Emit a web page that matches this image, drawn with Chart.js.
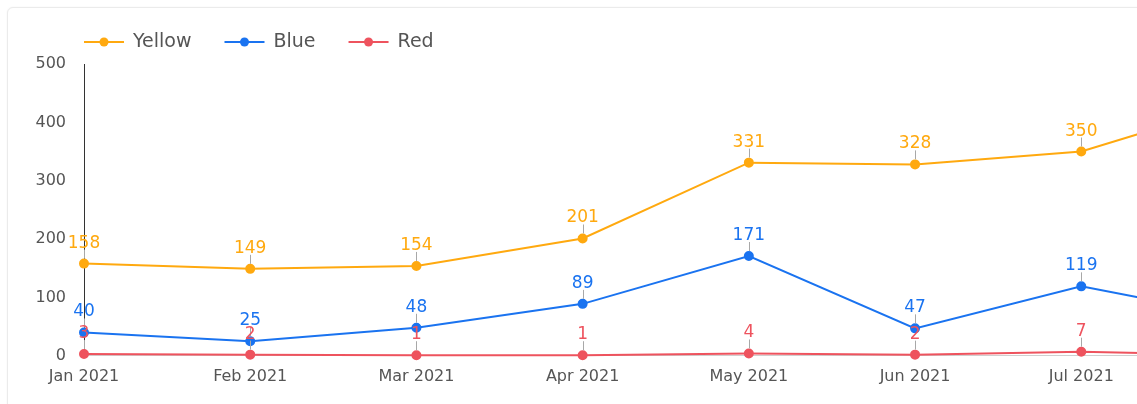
<!DOCTYPE html>
<html>
<head>
<meta charset="utf-8">
<script src="https://cdn.jsdelivr.net/npm/chart.js@4/dist/chart.umd.min.js"></script>
<style>
  html, body { margin:0; padding:0; width:1137px; height:404px; overflow:hidden; background:#fff; }
  #card { position:absolute; left:7px; top:7px; width:1400px; height:460px; border:1px solid #ebebeb; border-radius:6px; background:#fff; box-shadow:0 0 2px rgba(0,0,0,0.05); }
  #wrap { position:absolute; left:0; top:0; width:1297px; height:404px; }
</style>
</head>
<body>
<div id="card"></div>
<div id="wrap"><canvas id="c"></canvas></div>
<script>
const categories = ['Jan 2021','Feb 2021','Mar 2021','Apr 2021','May 2021','Jun 2021','Jul 2021','Aug 2021'];
const yellowValues = [158, 149, 154, 201, 331, 328, 350, 437];
const blueValues   = [40, 25, 48, 89, 171, 47, 119, 64];
const redValues    = [3, 2, 1, 1, 4, 2, 7, 1];
const yTicks = [0, 100, 200, 300, 400, 500];

const FONT = "'DejaVu Sans', 'Open Sans', sans-serif";
const colors = { yellow:'#FFA90F', blue:'#1A73F0', red:'#EE535E' };

const labelPlugin = {
  id: 'pointLabels',
  afterDatasetsDraw(chart) {
    const ctx = chart.ctx;
    chart.data.datasets.forEach((ds, i) => {
      const meta = chart.getDatasetMeta(i);
      meta.data.forEach((pt, j) => {
        const x = pt.x, y = pt.y;
        ctx.save();
        ctx.strokeStyle = '#a8a8a8';
        ctx.lineWidth = 1;
        ctx.beginPath();
        ctx.moveTo(Math.round(x) + 0.5, y - 5);
        ctx.lineTo(Math.round(x) + 0.5, y - 14);
        ctx.stroke();
        ctx.fillStyle = ds.borderColor;
        ctx.font = '17px ' + FONT;
        ctx.textAlign = 'center';
        ctx.textBaseline = 'alphabetic';
        ctx.fillText(String(ds.data[j]), x, y - 16);
        ctx.restore();
      });
    });
  }
};

const legendPlugin = {
  id: 'lineLegend',
  afterDraw(chart) {
    const ctx = chart.ctx;
    let x = chart.chartArea.left;
    const y = 42;
    ctx.save();
    ctx.font = '19px ' + FONT;
    chart.data.datasets.forEach(ds => {
      ctx.strokeStyle = ds.borderColor;
      ctx.fillStyle = ds.borderColor;
      ctx.lineWidth = 2;
      ctx.beginPath();
      ctx.moveTo(x, y); ctx.lineTo(x + 40, y);
      ctx.stroke();
      ctx.beginPath();
      ctx.arc(x + 20, y, 4.5, 0, Math.PI * 2);
      ctx.fill();
      ctx.fillStyle = '#555';
      ctx.textAlign = 'left';
      ctx.textBaseline = 'middle';
      ctx.fillText(ds.label, x + 49, y);
      x += 49 + ctx.measureText(ds.label).width + 33;
    });
    ctx.restore();
  }
};

function ds(label, data, color) {
  return {
    label, data,
    borderColor: color, backgroundColor: color,
    pointBackgroundColor: color, pointBorderColor: color,
    borderWidth: 2, pointRadius: 4, pointHoverRadius: 4,
    tension: 0, clip: false
  };
}

new Chart(document.getElementById('c'), {
  type: 'line',
  data: {
    labels: categories,
    datasets: [
      ds('Yellow', yellowValues, colors.yellow),
      ds('Blue', blueValues, colors.blue),
      ds('Red', redValues, colors.red)
    ]
  },
  options: {
    responsive: true,
    maintainAspectRatio: false,
    animation: false,
    layout: { padding: { top: 64, left: 20, right: 40, bottom: 7 } },
    plugins: { legend: { display: false }, tooltip: { enabled: false } },
    scales: {
      x: {
        grid: { display: false, drawTicks: false },
        border: { display: true, color: '#cfcfcf', width: 1 },
        ticks: { color: '#555', font: { family: FONT, size: 16 }, padding: 11, maxRotation: 0, autoSkip: false }
      },
      y: {
        min: 0, max: 500,
        afterFit(scale) { scale.width = 64; },
        afterBuildTicks(scale) { scale.ticks = yTicks.map(v => ({ value: v })); },
        grid: { display: false, drawTicks: false },
        border: { display: true, color: '#333', width: 1 },
        ticks: { color: '#555', font: { family: FONT, size: 16 }, padding: 18 }
      }
    }
  },
  plugins: [labelPlugin, legendPlugin]
});
</script>
</body>
</html>
